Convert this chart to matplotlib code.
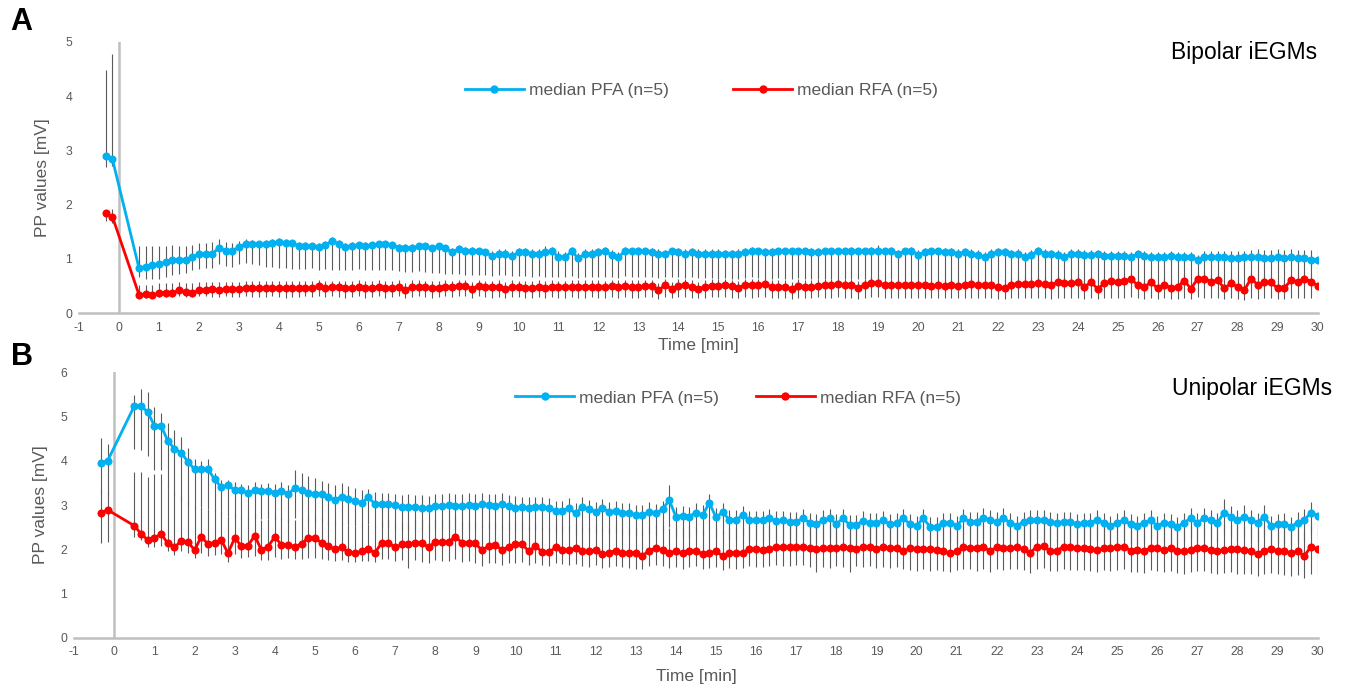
import numpy as np
import matplotlib
matplotlib.use("Agg")
import matplotlib.pyplot as plt
from matplotlib.lines import Line2D

plt.rcParams['font.family'] = ['Liberation Sans', 'DejaVu Sans']
plt.rcParams['axes.unicode_minus'] = False

BLUE = '#00b0f0'
RED = '#ff0000'
GREY = '#595959'
AXIS_GREY = '#bfbfbf'

# two baseline samples before ablation, then one value every 10 s from 0.5 min
T_PRE = [-1 / 3, -1 / 6]
LEGEND_LABELS = ['median PFA (n=5)', 'median RFA (n=5)']

# ---------------- A: bipolar ----------------
pfa_bip = [2.90, 2.84,
    0.83, 0.86, 0.89, 0.91, 0.94, 0.99, 0.98, 0.99, 1.03, 1.09,
    1.10, 1.09, 1.21, 1.15, 1.15, 1.22, 1.28, 1.27, 1.27, 1.27,
    1.29, 1.32, 1.30, 1.29, 1.24, 1.24, 1.23, 1.22, 1.26, 1.33,
    1.28, 1.22, 1.23, 1.25, 1.24, 1.25, 1.27, 1.27, 1.26, 1.21,
    1.20, 1.21, 1.23, 1.23, 1.20, 1.23, 1.20, 1.12, 1.18, 1.15,
    1.15, 1.14, 1.12, 1.06, 1.09, 1.09, 1.05, 1.12, 1.12, 1.10,
    1.10, 1.12, 1.14, 1.04, 1.03, 1.14, 1.01, 1.10, 1.10, 1.12,
    1.15, 1.07, 1.03, 1.15, 1.14, 1.15, 1.14, 1.12, 1.10, 1.09,
    1.14, 1.12, 1.10, 1.12, 1.10, 1.10, 1.10, 1.10, 1.09, 1.09,
    1.10, 1.12, 1.15, 1.14, 1.12, 1.12, 1.14, 1.14, 1.14, 1.14,
    1.14, 1.12, 1.12, 1.14, 1.14, 1.14, 1.14, 1.15, 1.14, 1.14,
    1.14, 1.15, 1.14, 1.15, 1.09, 1.14, 1.15, 1.08, 1.12, 1.14,
    1.14, 1.12, 1.12, 1.10, 1.12, 1.10, 1.07, 1.03, 1.10, 1.12,
    1.12, 1.09, 1.10, 1.04, 1.07, 1.15, 1.10, 1.09, 1.07, 1.04,
    1.10, 1.10, 1.07, 1.07, 1.09, 1.06, 1.06, 1.06, 1.06, 1.04,
    1.09, 1.06, 1.04, 1.04, 1.04, 1.06, 1.04, 1.04, 1.04, 0.98,
    1.03, 1.03, 1.03, 1.03, 1.01, 1.01, 1.03, 1.04, 1.03, 1.01,
    1.01, 1.03, 1.01, 1.03, 1.01, 1.01, 0.99, 0.99]
pfa_bip_q1 = [2.69, 2.72,
    0.67, 0.64, 0.64, 0.64, 0.66, 0.70, 0.72, 0.75, 0.79, 0.82,
    0.84, 0.83, 0.90, 0.87, 0.86, 0.90, 0.92, 0.90, 0.88, 0.86,
    0.86, 0.84, 0.83, 0.82, 0.82, 0.82, 0.83, 0.80, 0.82, 0.79,
    0.80, 0.79, 0.80, 0.81, 0.80, 0.79, 0.80, 0.79, 0.80, 0.78,
    0.76, 0.76, 0.77, 0.76, 0.75, 0.74, 0.73, 0.72, 0.72, 0.71,
    0.71, 0.70, 0.70, 0.69, 0.70, 0.70, 0.68, 0.69, 0.68, 0.67,
    0.68, 0.67, 0.67, 0.66, 0.66, 0.68, 0.65, 0.67, 0.67, 0.66,
    0.67, 0.66, 0.65, 0.68, 0.67, 0.67, 0.66, 0.66, 0.65, 0.66,
    0.66, 0.66, 0.65, 0.66, 0.65, 0.65, 0.65, 0.64, 0.65, 0.64,
    0.64, 0.65, 0.66, 0.65, 0.64, 0.64, 0.65, 0.64, 0.64, 0.65,
    0.64, 0.64, 0.64, 0.63, 0.64, 0.63, 0.63, 0.64, 0.63, 0.63,
    0.62, 0.63, 0.62, 0.63, 0.60, 0.62, 0.62, 0.60, 0.61, 0.61,
    0.59, 0.58, 0.58, 0.57, 0.58, 0.57, 0.56, 0.55, 0.57, 0.58,
    0.58, 0.56, 0.57, 0.55, 0.56, 0.58, 0.57, 0.56, 0.56, 0.55,
    0.57, 0.57, 0.56, 0.56, 0.57, 0.55, 0.55, 0.55, 0.55, 0.54,
    0.56, 0.55, 0.54, 0.54, 0.54, 0.55, 0.54, 0.54, 0.54, 0.52,
    0.53, 0.53, 0.53, 0.53, 0.52, 0.52, 0.53, 0.53, 0.52, 0.52,
    0.52, 0.53, 0.52, 0.53, 0.52, 0.52, 0.51, 0.51]
pfa_bip_q3 = [4.48, 4.77,
    1.24, 1.23, 1.23, 1.23, 1.24, 1.26, 1.23, 1.24, 1.26, 1.29,
    1.30, 1.31, 1.36, 1.31, 1.30, 1.34, 1.36, 1.35, 1.34, 1.35,
    1.36, 1.38, 1.36, 1.35, 1.32, 1.31, 1.30, 1.30, 1.33, 1.40,
    1.35, 1.30, 1.31, 1.32, 1.31, 1.32, 1.33, 1.33, 1.32, 1.28,
    1.27, 1.27, 1.29, 1.28, 1.26, 1.28, 1.26, 1.21, 1.25, 1.22,
    1.22, 1.21, 1.19, 1.15, 1.18, 1.18, 1.14, 1.20, 1.20, 1.19,
    1.19, 1.23, 1.22, 1.14, 1.13, 1.22, 1.11, 1.19, 1.19, 1.20,
    1.22, 1.16, 1.13, 1.22, 1.21, 1.22, 1.21, 1.20, 1.18, 1.17,
    1.21, 1.20, 1.18, 1.20, 1.18, 1.18, 1.18, 1.18, 1.17, 1.17,
    1.18, 1.20, 1.22, 1.21, 1.20, 1.20, 1.21, 1.21, 1.21, 1.21,
    1.21, 1.20, 1.20, 1.21, 1.21, 1.21, 1.21, 1.22, 1.21, 1.21,
    1.22, 1.26, 1.21, 1.22, 1.17, 1.21, 1.22, 1.17, 1.20, 1.21,
    1.21, 1.20, 1.20, 1.18, 1.20, 1.18, 1.16, 1.13, 1.18, 1.20,
    1.20, 1.17, 1.18, 1.13, 1.16, 1.22, 1.18, 1.17, 1.16, 1.13,
    1.19, 1.18, 1.16, 1.16, 1.17, 1.15, 1.15, 1.15, 1.15, 1.13,
    1.17, 1.15, 1.13, 1.13, 1.13, 1.15, 1.13, 1.13, 1.13, 1.08,
    1.14, 1.14, 1.15, 1.15, 1.14, 1.15, 1.14, 1.16, 1.18, 1.17,
    1.16, 1.18, 1.17, 1.18, 1.17, 1.17, 1.17, 1.18]

rfa_bip = [1.84, 1.78,
    0.34, 0.35, 0.34, 0.37, 0.38, 0.38, 0.42, 0.40, 0.38, 0.42,
    0.43, 0.44, 0.43, 0.44, 0.44, 0.45, 0.46, 0.46, 0.46, 0.46,
    0.47, 0.46, 0.46, 0.46, 0.46, 0.47, 0.46, 0.51, 0.46, 0.48,
    0.48, 0.46, 0.46, 0.49, 0.46, 0.47, 0.49, 0.46, 0.47, 0.49,
    0.42, 0.49, 0.49, 0.48, 0.46, 0.47, 0.49, 0.48, 0.51, 0.51,
    0.45, 0.51, 0.48, 0.48, 0.49, 0.45, 0.48, 0.48, 0.47, 0.47,
    0.49, 0.46, 0.49, 0.48, 0.48, 0.49, 0.49, 0.49, 0.49, 0.49,
    0.48, 0.50, 0.49, 0.50, 0.49, 0.49, 0.50, 0.50, 0.42, 0.52,
    0.45, 0.51, 0.52, 0.49, 0.45, 0.49, 0.51, 0.51, 0.52, 0.50,
    0.46, 0.53, 0.52, 0.52, 0.54, 0.49, 0.49, 0.49, 0.45, 0.51,
    0.49, 0.49, 0.51, 0.52, 0.53, 0.54, 0.52, 0.52, 0.47, 0.52,
    0.56, 0.55, 0.52, 0.52, 0.52, 0.52, 0.52, 0.53, 0.52, 0.51,
    0.52, 0.51, 0.52, 0.51, 0.52, 0.54, 0.52, 0.52, 0.52, 0.48,
    0.47, 0.53, 0.54, 0.54, 0.54, 0.55, 0.54, 0.53, 0.57, 0.55,
    0.55, 0.58, 0.49, 0.57, 0.45, 0.55, 0.60, 0.58, 0.60, 0.63,
    0.52, 0.49, 0.57, 0.46, 0.53, 0.47, 0.49, 0.60, 0.45, 0.64,
    0.64, 0.58, 0.61, 0.46, 0.55, 0.49, 0.42, 0.64, 0.53, 0.57,
    0.57, 0.46, 0.46, 0.61, 0.58, 0.64, 0.58, 0.51]
rfa_bip_q1 = [1.70, 1.66,
    0.30, 0.29, 0.29, 0.30, 0.30, 0.30, 0.31, 0.30, 0.30, 0.31,
    0.31, 0.30, 0.30, 0.31, 0.30, 0.30, 0.31, 0.30, 0.30, 0.30,
    0.31, 0.30, 0.29, 0.30, 0.30, 0.31, 0.30, 0.32, 0.30, 0.31,
    0.30, 0.29, 0.30, 0.31, 0.29, 0.30, 0.31, 0.29, 0.30, 0.31,
    0.28, 0.30, 0.31, 0.30, 0.29, 0.30, 0.31, 0.30, 0.31, 0.31,
    0.28, 0.31, 0.30, 0.29, 0.30, 0.28, 0.30, 0.30, 0.29, 0.29,
    0.30, 0.28, 0.30, 0.29, 0.29, 0.30, 0.29, 0.29, 0.30, 0.29,
    0.29, 0.30, 0.29, 0.30, 0.29, 0.29, 0.30, 0.30, 0.27, 0.30,
    0.28, 0.30, 0.30, 0.29, 0.28, 0.29, 0.30, 0.30, 0.30, 0.29,
    0.28, 0.30, 0.29, 0.30, 0.30, 0.29, 0.28, 0.29, 0.27, 0.29,
    0.29, 0.29, 0.30, 0.29, 0.29, 0.30, 0.29, 0.29, 0.27, 0.29,
    0.30, 0.30, 0.29, 0.29, 0.28, 0.29, 0.29, 0.29, 0.28, 0.28,
    0.29, 0.28, 0.29, 0.28, 0.29, 0.29, 0.28, 0.28, 0.28, 0.27,
    0.26, 0.28, 0.29, 0.28, 0.28, 0.29, 0.28, 0.27, 0.29, 0.28,
    0.28, 0.29, 0.26, 0.29, 0.26, 0.28, 0.29, 0.28, 0.29, 0.30,
    0.28, 0.27, 0.29, 0.26, 0.28, 0.27, 0.27, 0.29, 0.26, 0.30,
    0.29, 0.28, 0.29, 0.26, 0.28, 0.27, 0.25, 0.29, 0.27, 0.28,
    0.28, 0.26, 0.26, 0.29, 0.28, 0.29, 0.28, 0.27]
rfa_bip_q3 = [1.88, 1.92,
    0.53, 0.53, 0.53, 0.55, 0.55, 0.55, 0.57, 0.56, 0.55, 0.57,
    0.57, 0.58, 0.57, 0.58, 0.58, 0.58, 0.59, 0.59, 0.59, 0.59,
    0.60, 0.59, 0.59, 0.59, 0.59, 0.60, 0.59, 0.62, 0.59, 0.60,
    0.60, 0.59, 0.59, 0.61, 0.59, 0.60, 0.61, 0.59, 0.60, 0.61,
    0.56, 0.61, 0.61, 0.60, 0.59, 0.60, 0.61, 0.60, 0.62, 0.62,
    0.58, 0.62, 0.60, 0.60, 0.61, 0.58, 0.61, 0.60, 0.59, 0.59,
    0.61, 0.59, 0.61, 0.60, 0.60, 0.61, 0.61, 0.61, 0.61, 0.61,
    0.60, 0.62, 0.61, 0.62, 0.61, 0.61, 0.62, 0.62, 0.56, 0.63,
    0.58, 0.63, 0.63, 0.61, 0.58, 0.61, 0.63, 0.63, 0.63, 0.62,
    0.59, 0.64, 0.63, 0.63, 0.65, 0.61, 0.61, 0.61, 0.58, 0.63,
    0.61, 0.61, 0.63, 0.63, 0.64, 0.65, 0.63, 0.63, 0.59, 0.63,
    0.66, 0.66, 0.63, 0.63, 0.63, 0.63, 0.63, 0.64, 0.64, 0.63,
    0.64, 0.63, 0.64, 0.63, 0.64, 0.66, 0.64, 0.64, 0.64, 0.62,
    0.61, 0.65, 0.66, 0.66, 0.66, 0.67, 0.66, 0.65, 0.69, 0.67,
    0.67, 0.70, 0.63, 0.69, 0.60, 0.67, 0.72, 0.70, 0.72, 0.75,
    0.65, 0.62, 0.69, 0.60, 0.65, 0.61, 0.62, 0.72, 0.59, 0.76,
    0.76, 0.70, 0.73, 0.60, 0.67, 0.62, 0.57, 0.76, 0.65, 0.69,
    0.69, 0.60, 0.60, 0.73, 0.70, 0.76, 0.70, 0.64]

# ---------------- B: unipolar ----------------
pfa_uni = [3.96, 4.00,
    5.24, 5.24, 5.10, 4.79, 4.79, 4.45, 4.27, 4.18, 3.98, 3.81,
    3.81, 3.81, 3.58, 3.40, 3.45, 3.34, 3.34, 3.26, 3.34, 3.32,
    3.32, 3.28, 3.32, 3.25, 3.38, 3.34, 3.28, 3.25, 3.25, 3.19,
    3.11, 3.19, 3.13, 3.10, 3.05, 3.17, 3.02, 3.02, 3.02, 2.99,
    2.95, 2.95, 2.95, 2.93, 2.93, 2.98, 2.98, 3.00, 2.98, 2.98,
    3.00, 2.98, 3.02, 3.00, 2.98, 3.02, 2.97, 2.93, 2.95, 2.94,
    2.95, 2.96, 2.94, 2.87, 2.87, 2.93, 2.81, 2.95, 2.90, 2.85,
    2.93, 2.85, 2.87, 2.83, 2.83, 2.77, 2.77, 2.85, 2.81, 2.90,
    3.11, 2.74, 2.76, 2.74, 2.83, 2.77, 3.05, 2.72, 2.84, 2.66,
    2.66, 2.77, 2.65, 2.65, 2.65, 2.70, 2.64, 2.65, 2.62, 2.62,
    2.70, 2.60, 2.57, 2.65, 2.70, 2.57, 2.70, 2.55, 2.55, 2.64,
    2.59, 2.59, 2.65, 2.57, 2.59, 2.70, 2.57, 2.53, 2.70, 2.51,
    2.50, 2.60, 2.60, 2.53, 2.70, 2.62, 2.62, 2.71, 2.66, 2.62,
    2.70, 2.60, 2.53, 2.62, 2.65, 2.66, 2.65, 2.62, 2.60, 2.62,
    2.62, 2.57, 2.60, 2.60, 2.66, 2.60, 2.53, 2.60, 2.65, 2.57,
    2.53, 2.60, 2.66, 2.53, 2.60, 2.57, 2.51, 2.60, 2.70, 2.60,
    2.70, 2.66, 2.60, 2.83, 2.74, 2.65, 2.74, 2.66, 2.60, 2.74,
    2.53, 2.57, 2.57, 2.51, 2.60, 2.66, 2.83, 2.76]
pfa_uni_q1 = [3.30, 3.25,
    4.27, 4.24, 4.10, 3.80, 3.80, 3.40, 3.20, 3.10, 3.00, 2.90,
    2.95, 2.90, 2.85, 2.75, 2.75, 2.70, 2.70, 2.65, 2.70, 2.68,
    2.68, 2.65, 2.66, 2.62, 2.70, 2.68, 2.64, 2.62, 2.62, 2.58,
    2.55, 2.58, 2.55, 2.52, 2.50, 2.56, 2.48, 2.48, 2.48, 2.46,
    2.44, 2.44, 2.44, 2.42, 2.42, 2.45, 2.45, 2.46, 2.45, 2.45,
    2.46, 2.45, 2.47, 2.46, 2.45, 2.47, 2.44, 2.42, 2.43, 2.42,
    2.43, 2.44, 2.42, 2.38, 2.38, 2.41, 2.33, 2.42, 2.39, 2.35,
    2.41, 2.35, 2.37, 2.33, 2.33, 2.29, 2.29, 2.35, 2.32, 2.38,
    2.50, 2.27, 2.28, 2.27, 2.34, 2.29, 2.45, 2.25, 2.35, 2.20,
    2.20, 2.29, 2.19, 2.19, 2.19, 2.23, 2.18, 2.19, 2.16, 2.16,
    2.23, 2.15, 2.13, 2.19, 2.23, 2.13, 2.23, 2.11, 2.11, 2.18,
    2.14, 2.14, 2.19, 2.13, 2.14, 2.23, 2.13, 2.10, 2.23, 2.08,
    2.08, 2.16, 2.16, 2.10, 2.23, 2.17, 2.17, 2.24, 2.19, 2.17,
    2.23, 2.16, 2.10, 2.17, 2.19, 2.20, 2.19, 2.17, 2.16, 2.17,
    2.17, 2.13, 2.16, 2.16, 2.20, 2.16, 2.10, 2.16, 2.19, 2.13,
    2.10, 2.16, 2.20, 2.10, 2.16, 2.13, 2.08, 2.16, 2.23, 2.16,
    2.23, 2.20, 2.16, 2.35, 2.28, 2.19, 2.28, 2.20, 2.16, 2.28,
    2.10, 2.13, 2.13, 2.08, 2.16, 2.20, 2.35, 2.30]
pfa_uni_q3 = [4.51, 4.37,
    5.49, 5.62, 5.55, 5.22, 5.09, 4.85, 4.69, 4.54, 4.28, 4.05,
    4.00, 4.05, 3.72, 3.56, 3.56, 3.52, 3.48, 3.45, 3.52, 3.48,
    3.50, 3.48, 3.52, 3.45, 3.79, 3.72, 3.66, 3.60, 3.55, 3.50,
    3.45, 3.50, 3.42, 3.38, 3.35, 3.36, 3.30, 3.28, 3.28, 3.25,
    3.22, 3.24, 3.22, 3.22, 3.20, 3.24, 3.25, 3.26, 3.24, 3.24,
    3.26, 3.24, 3.27, 3.25, 3.24, 3.27, 3.22, 3.20, 3.18, 3.17,
    3.17, 3.18, 3.16, 3.10, 3.10, 3.15, 3.04, 3.17, 3.12, 3.07,
    3.13, 3.07, 3.09, 3.05, 3.05, 3.00, 3.00, 3.06, 3.03, 3.10,
    3.45, 2.96, 2.98, 2.96, 3.04, 2.99, 3.25, 2.94, 3.05, 2.88,
    2.88, 2.98, 2.87, 2.87, 2.87, 2.92, 2.86, 2.87, 2.84, 2.84,
    2.92, 2.82, 2.80, 2.88, 2.92, 2.80, 2.92, 2.78, 2.78, 2.86,
    2.81, 2.81, 2.87, 2.80, 2.81, 2.92, 2.80, 2.76, 2.92, 2.74,
    2.73, 2.83, 2.83, 2.76, 2.92, 2.85, 2.85, 2.94, 2.88, 2.85,
    2.93, 2.83, 2.76, 2.85, 2.88, 2.89, 2.88, 2.85, 2.83, 2.85,
    2.85, 2.80, 2.83, 2.83, 2.89, 2.83, 2.76, 2.83, 2.88, 2.80,
    2.76, 2.83, 2.89, 2.76, 2.83, 2.80, 2.74, 2.83, 2.93, 2.83,
    2.93, 2.89, 2.83, 3.13, 2.98, 2.88, 3.00, 2.89, 2.83, 2.99,
    2.76, 2.80, 2.82, 2.74, 2.85, 2.90, 3.07, 3.00]

rfa_uni = [2.83, 2.89,
    2.53, 2.35, 2.21, 2.25, 2.35, 2.13, 2.04, 2.19, 2.17, 1.98,
    2.28, 2.12, 2.15, 2.21, 1.91, 2.25, 2.08, 2.08, 2.31, 1.98,
    2.06, 2.28, 2.10, 2.10, 2.06, 2.12, 2.26, 2.25, 2.15, 2.07,
    2.00, 2.04, 1.93, 1.91, 1.95, 2.00, 1.92, 2.15, 2.15, 2.04,
    2.11, 2.11, 2.15, 2.15, 2.04, 2.17, 2.17, 2.17, 2.28, 2.15,
    2.15, 2.13, 1.98, 2.07, 2.10, 1.98, 2.06, 2.12, 2.12, 1.95,
    2.08, 1.93, 1.93, 2.04, 1.98, 1.98, 2.02, 1.95, 1.95, 1.98,
    1.89, 1.92, 1.97, 1.92, 1.92, 1.92, 1.85, 1.97, 2.02, 1.98,
    1.92, 1.95, 1.92, 1.97, 1.97, 1.89, 1.92, 1.95, 1.85, 1.92,
    1.92, 1.92, 2.00, 2.00, 1.98, 2.00, 2.04, 2.04, 2.04, 2.06,
    2.06, 2.02, 2.00, 2.02, 2.02, 2.02, 2.04, 2.02, 2.00, 2.06,
    2.04, 2.00, 2.06, 2.02, 2.02, 1.95, 2.02, 2.00, 2.01, 2.00,
    1.98, 1.95, 1.91, 1.95, 2.04, 2.02, 2.02, 2.04, 1.97, 2.04,
    2.02, 2.02, 2.04, 2.00, 1.92, 2.06, 2.07, 1.95, 1.97, 2.06,
    2.04, 2.02, 2.02, 2.00, 1.98, 2.02, 2.02, 2.06, 2.06, 1.97,
    1.98, 1.97, 2.02, 2.02, 1.98, 2.02, 1.97, 1.95, 1.98, 2.02,
    2.02, 1.98, 1.95, 1.98, 2.00, 2.00, 1.98, 1.95, 1.89, 1.97,
    2.00, 1.97, 1.95, 1.92, 1.95, 1.85, 2.06, 2.00]
rfa_uni_q1 = [2.13, 2.17,
    2.28, 2.20, 2.05, 2.05, 2.08, 1.95, 1.88, 1.95, 1.92, 1.80,
    1.92, 1.85, 1.88, 1.90, 1.72, 1.90, 1.80, 1.82, 1.85, 1.76,
    1.76, 1.82, 1.78, 1.80, 1.78, 1.78, 1.80, 1.80, 1.78, 1.76,
    1.74, 1.75, 1.72, 1.72, 1.73, 1.74, 1.72, 1.78, 1.78, 1.74,
    1.75, 1.57, 1.76, 1.72, 1.70, 1.75, 1.73, 1.74, 1.78, 1.72,
    1.74, 1.70, 1.62, 1.68, 1.70, 1.64, 1.70, 1.70, 1.72, 1.64,
    1.70, 1.64, 1.62, 1.68, 1.66, 1.64, 1.66, 1.62, 1.60, 1.64,
    1.58, 1.60, 1.62, 1.60, 1.58, 1.55, 1.55, 1.62, 1.64, 1.62,
    1.58, 1.60, 1.56, 1.60, 1.62, 1.55, 1.58, 1.60, 1.52, 1.58,
    1.56, 1.58, 1.62, 1.60, 1.60, 1.62, 1.64, 1.62, 1.62, 1.64,
    1.64, 1.60, 1.48, 1.60, 1.58, 1.62, 1.60, 1.48, 1.62, 1.60,
    1.62, 1.58, 1.60, 1.58, 1.60, 1.55, 1.52, 1.50, 1.55, 1.50,
    1.52, 1.50, 1.48, 1.52, 1.56, 1.55, 1.50, 1.56, 1.48, 1.55,
    1.54, 1.55, 1.56, 1.52, 1.46, 1.56, 1.57, 1.50, 1.50, 1.55,
    1.54, 1.52, 1.52, 1.50, 1.48, 1.52, 1.50, 1.54, 1.56, 1.48,
    1.48, 1.46, 1.52, 1.50, 1.48, 1.50, 1.46, 1.45, 1.48, 1.50,
    1.50, 1.46, 1.45, 1.46, 1.48, 1.45, 1.44, 1.45, 1.40, 1.44,
    1.46, 1.44, 1.42, 1.40, 1.42, 1.36, 1.44, 1.42]
rfa_uni_q3 = [3.35, 3.30,
    3.75, 3.75, 3.64, 3.70, 3.70, 3.45, 3.30, 3.20, 3.10, 2.95,
    2.95, 2.90, 2.88, 2.85, 2.75, 2.80, 2.72, 2.70, 2.80, 2.65,
    2.68, 2.78, 2.70, 2.68, 2.66, 2.70, 2.76, 2.75, 2.70, 2.64,
    2.60, 2.60, 2.55, 2.52, 2.55, 2.58, 2.52, 2.65, 2.65, 2.60,
    2.62, 2.62, 2.65, 2.65, 2.58, 2.66, 2.66, 2.66, 2.72, 2.64,
    2.64, 2.63, 2.55, 2.60, 2.62, 2.55, 2.62, 2.62, 2.62, 2.52,
    2.60, 2.50, 2.50, 2.57, 2.53, 2.53, 2.56, 2.50, 2.50, 2.53,
    2.45, 2.48, 2.52, 2.48, 2.48, 2.48, 2.42, 2.52, 2.55, 2.52,
    2.48, 2.50, 2.48, 2.52, 2.52, 2.45, 2.48, 2.50, 2.42, 2.48,
    2.48, 2.48, 2.54, 2.54, 2.53, 2.54, 2.57, 2.57, 2.57, 2.58,
    2.58, 2.56, 2.54, 2.56, 2.56, 2.56, 2.57, 2.56, 2.54, 2.58,
    2.57, 2.54, 2.58, 2.56, 2.56, 2.50, 2.56, 2.54, 2.56, 2.54,
    2.52, 2.50, 2.46, 2.50, 2.57, 2.56, 2.56, 2.57, 2.52, 2.57,
    2.56, 2.56, 2.57, 2.54, 2.48, 2.58, 2.59, 2.50, 2.52, 2.58,
    2.57, 2.56, 2.56, 2.54, 2.52, 2.56, 2.56, 2.58, 2.58, 2.52,
    2.52, 2.52, 2.56, 2.56, 2.52, 2.56, 2.52, 2.50, 2.52, 2.56,
    2.56, 2.52, 2.50, 2.52, 2.54, 2.54, 2.52, 2.50, 2.45, 2.52,
    2.54, 2.52, 2.50, 2.48, 2.50, 2.42, 2.58, 2.55]


def time_axis(n):
    # baseline points, then 10 s steps starting 30 s after ablation
    return np.array(T_PRE + list(0.5 + np.arange(n - 2) / 6))


def draw_series(ax, y, q1, q3, color):
    n = min(len(y), len(q1), len(q3))
    y = np.array(y[:n])
    lo = np.clip(y - np.array(q1[:n]), 0, None)
    hi = np.clip(np.array(q3[:n]) - y, 0, None)
    x = time_axis(n)
    ax.errorbar(x, y, yerr=[lo, hi], fmt='none', ecolor='#5a5a5a',
                elinewidth=0.8, capsize=0, zorder=1)
    ax.plot(x, y, color=color, lw=2.0, marker='o', ms=5.8, mew=0, zorder=3)


def style_axes(ax, ymax, ylab_x, xlab_y):
    ax.set_xlim(-1, 30)
    ax.set_ylim(0, ymax)
    ax.set_xticks(range(-1, 31))
    ax.set_yticks(range(0, ymax + 1))
    ax.axvline(0, color=AXIS_GREY, lw=1.8, zorder=0.5)
    for side in ['top', 'right', 'left']:
        ax.spines[side].set_visible(False)
    ax.spines['bottom'].set_color(AXIS_GREY)
    ax.spines['bottom'].set_linewidth(1.8)
    ax.tick_params(axis='both', length=0, labelsize=8.8, labelcolor=GREY)
    ax.tick_params(axis='x', pad=6)
    ax.tick_params(axis='y', pad=5)
    ax.set_xlabel('Time [min]', fontsize=12.5, color=GREY, va='center')
    ax.xaxis.set_label_coords(0.5, xlab_y)
    ax.set_ylabel('PP values [mV]', fontsize=12.5, color=GREY, va='center')
    ax.yaxis.set_label_coords(ylab_x, 0.5)


def add_legend(fig, ax, center, colspace):
    handles = [Line2D([], [], color=c, lw=2.0, marker='o', ms=6, mew=0)
               for c in (BLUE, RED)]
    ax.legend(handles, LEGEND_LABELS, loc='center', bbox_to_anchor=center,
              bbox_transform=fig.transFigure, ncol=2, frameon=False,
              fontsize=12.5, labelcolor=GREY, handlelength=3.4,
              handletextpad=0.3, columnspacing=colspace, numpoints=1)


def main():
    fig = plt.figure(figsize=(13.47, 6.88), dpi=100)
    W, H = 1347.0, 688.0

    ax_a = fig.add_axes([79.1 / W, 1 - 313.3 / H, 1238.4 / W, 271.6 / H])
    draw_series(ax_a, pfa_bip, pfa_bip_q1, pfa_bip_q3, BLUE)
    draw_series(ax_a, rfa_bip, rfa_bip_q1, rfa_bip_q3, RED)
    style_axes(ax_a, 5, -0.0292, -0.117)
    add_legend(fig, ax_a, (701.5 / W, 1 - 90 / H), 3.7)

    ax_b = fig.add_axes([74.2 / W, 1 - 637.7 / H, 1243.5 / W, 265.4 / H])
    draw_series(ax_b, pfa_uni, pfa_uni_q1, pfa_uni_q3, BLUE)
    draw_series(ax_b, rfa_uni, rfa_uni_q1, rfa_uni_q3, RED)
    style_axes(ax_b, 6, -0.0267, -0.148)
    add_legend(fig, ax_b, (738 / W, 1 - 398 / H), 2.1)

    fig.text(1317 / W, 1 - 53 / H, 'Bipolar iEGMs', fontsize=16.5,
             ha='right', va='center', color='black')
    fig.text(1332 / W, 1 - 388 / H, 'Unipolar iEGMs', fontsize=16.5,
             ha='right', va='center', color='black')
    fig.text(10 / W, 1 - 22.5 / H, 'A', fontsize=22, fontweight='bold',
             ha='left', va='center')
    fig.text(11 / W, 1 - 357 / H, 'B', fontsize=22, fontweight='bold',
             ha='left', va='center')

    fig.savefig('out.png', dpi=100)


if __name__ == "__main__":
    main()
